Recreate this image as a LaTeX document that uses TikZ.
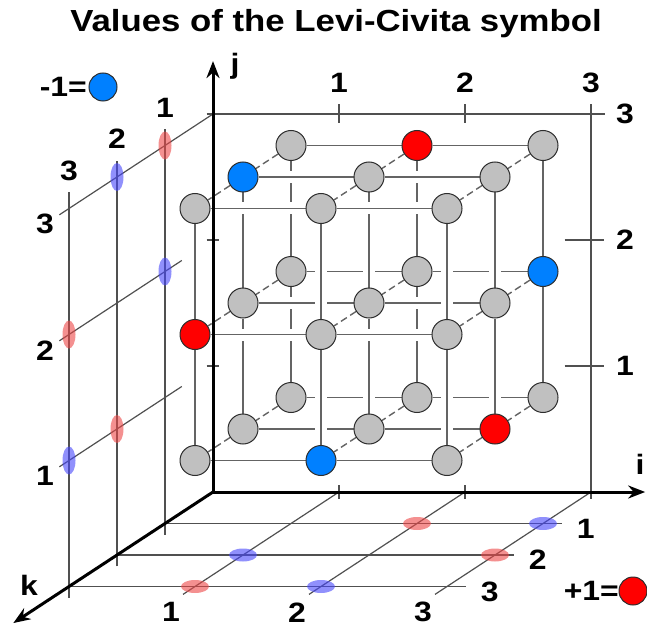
\documentclass[tikz,border=0pt]{standalone}
\usepackage{fontspec}
\setmainfont{Liberation Sans}[FakeStretch=1.14]
\usetikzlibrary{arrows.meta,shapes.geometric}
\pgfdeclarelayer{balls}
\pgfsetlayers{main,balls}
\definecolor{BallGray}{RGB}{192,192,192}
\definecolor{BallEdge}{RGB}{45,45,45}
\definecolor{PlusRed}{RGB}{255,0,0}
\definecolor{MinusBlue}{RGB}{0,128,255}
\definecolor{RodGray}{RGB}{100,100,100}
\definecolor{GuideGray}{RGB}{80,80,80}
\definecolor{SpotRed}{RGB}{236,70,70}
\definecolor{SpotBlue}{RGB}{70,70,250}
\tikzset{
  ball0/.style={circle,draw=BallEdge,line width=1pt,fill=BallGray,
    minimum size=30pt,inner sep=0pt},
  ball1/.style={ball0,fill=PlusRed},
  ball-1/.style={ball0,fill=MinusBlue},
  rod/.style={draw=RodGray,line width=1.4pt,
    preaction={draw=white,line width=12pt}},
  deeprod/.style={draw=RodGray,line width=1.4pt,dash pattern=on 7pt off 4pt},
  guide/.style={draw=GuideGray,line width=1.2pt},
  axis/.style={draw=black,line width=3pt,-{Stealth[length=17pt,width=13pt]}},
  spot1/.style={fill=SpotRed},
  spot-1/.style={fill=SpotBlue},
  vspot/.style={ellipse,inner sep=0pt,minimum width=13pt,minimum height=28pt,
    fill opacity=0.6},
  hspot/.style={ellipse,inner sep=0pt,minimum width=28pt,minimum height=13pt,
    fill opacity=0.6},
  lbl/.style={font=\fontsize{28}{30}\selectfont\bfseries,inner sep=0pt}
}

\begin{document}
\begin{tikzpicture}[x=1pt,y=-1pt]
  \useasboundingbox (0,0) rectangle (647,628);
  \node[lbl,font=\fontsize{30.5}{34}\selectfont\bfseries,anchor=base] (title)
    at (336,32) {Values of the Levi-Civita symbol};
  \node[lbl,anchor=east] (minus) at (87,87) {-1=};
  \node[ball-1,minimum size=28pt] (minusball) at (103,87) {};
  \node[lbl,anchor=east] (plus) at (619,591) {+1=};
  \node[ball1,minimum size=28pt] (plusball) at (633,591) {};
  \node[lbl] (iname) at (640,464) {i};
  \node[lbl] (jname) at (235,66) {j};
  \node[lbl] (kname) at (29,585) {k};

  \begin{scope}[shift={(213pt,-492pt)},x={(126pt,0pt)},y={(0pt,126pt)},
      z={(-48pt,-31.5pt)}]
    % back plane
    \draw[guide] (-0.04,3,0) -- (3.11,3,0);
    \draw[guide] (3,0,0) -- (3,3.08,0);
    \foreach \n in {1,2,3} {
      \draw[guide] (\n,2.93,0) -- (\n,3.08,0);
      \draw[guide] (2.79,\n,0) -- (3.1,\n,0);
      \draw[guide] (\n,-0.055,0) -- (\n,0.055,0);
      \draw[guide] (-0.05,\n,0) -- (0.05,\n,0);
      \node[lbl] (top\n) at (\n,3.25,0) {\n};
      \node[lbl] (side\n) at (3.27,\n,0) {\n};
    }
    % left plane
    \draw[guide] (0,3,0) -- (0,3,3.2);
    \foreach \j in {1,2} \draw[guide] (0,\j,0.65) -- (0,\j,3.2);
    \foreach \k in {1,2,3} {
      \draw[guide] (0,-0.09,\k) -- (0,3.13,\k);
      \node[lbl] (kup\k) at (0,3.3,\k) {\k};
      \node[lbl] (jleft\k) at (0,\k,3.5) {\k};
    }
    % floor
    \foreach \k in {1,2,3} {
      \draw[guide] (0,0,\k) -- (3.15,0,\k);
      \node[lbl,yshift=-5pt] (kright\k) at (3.34,0,\k) {\k};
    }
    \foreach \i in {1,2,3} {
      \draw[guide] (\i,0,0) -- (\i,0,3.25);
      \node[lbl,yshift=-10pt] (ibottom\i) at (\i,0,3.5) {\i};
    }
    % projected values
    \foreach \a in {1,2,3} {
      \foreach \b in {1,2,3} {
        \ifnum\a=\b\relax\else
          \pgfmathtruncatemacro\c{6-\a-\b}
          \pgfmathtruncatemacro\val{(\c-\a)*(\a-\b)*(\b-\c)/2}
          \node[vspot,spot\val] (w\a\b) at (0,\a,\b) {};
          \pgfmathtruncatemacro\val{(\a-\c)*(\c-\b)*(\b-\a)/2}
          \node[hspot,spot\val] (f\a\b) at (\a,0,\b) {};
        \fi
      }
    }
    % cube
    \begin{pgfonlayer}{balls}
      \foreach \i in {1,2,3}
        \foreach \j in {1,2,3}
          \foreach \k in {1,2,3} {
            \pgfmathtruncatemacro\val{(\i-\j)*(\j-\k)*(\k-\i)/2}
            \node[ball\val] (b\i\j\k) at (\i,\j,\k) {};
          }
    \end{pgfonlayer}
    \foreach \k in {1,2,3} {
      \foreach \n in {1,2,3} {
        \draw[rod] (b1\n\k) -- (b2\n\k) (b2\n\k) -- (b3\n\k);
        \draw[rod] (b\n1\k) -- (b\n2\k) (b\n2\k) -- (b\n3\k);
      }
      \ifnum\k<3
        \pgfmathtruncatemacro\kk{\k+1}
        \foreach \i in {1,2,3}
          \foreach \j in {1,2,3}
            \draw[deeprod] (b\i\j\k) -- (b\i\j\kk);
      \fi
    }
    % axes
    \draw[axis] (0,0,0) -- (3.43,0,0);
    \draw[axis] (0,0,0) -- (0,3.42,0);
    \draw[axis] (0,0,0) -- (0,0,4.16);
  \end{scope}
\end{tikzpicture}
\end{document}
